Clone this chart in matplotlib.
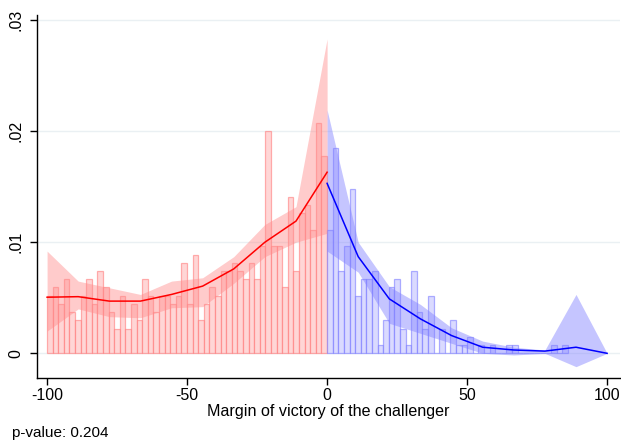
import numpy as np
import matplotlib
matplotlib.use("Agg")
import matplotlib.pyplot as plt

plt.rcParams["font.family"] = ["Liberation Sans", "DejaVu Sans"]

# Histogram (bin width 2), counts per bin
BIN_W = 2.0
N_OBS = 675
left_edges = np.arange(-100, 0, BIN_W)
left_counts = [7, 8, 6, 9, 5, 4, 7, 9, 6, 10,
               8, 5, 3, 7, 3, 6, 4, 9, 7, 5,
               7, 7, 6, 7, 11, 6, 12, 4, 6, 8,
               7, 10, 10, 11, 10, 9, 11, 9, 13, 27,
               13, 13, 8, 19, 10, 17, 18, 15, 28, 24]
right_edges = np.arange(0, 86, BIN_W)
right_counts = [15, 25, 10, 13, 20, 7, 9, 9, 10, 1,
                4, 8, 9, 3, 1, 10, 5, 3, 7, 0,
                3, 0, 4, 1, 1, 2, 0, 1, 0, 1,
                0, 0, 1, 1, 0, 0, 0, 0, 0, 0,
                1, 0, 1]

# Local linear fits and confidence bands
left_x = np.linspace(-100, 0, 10)
left_fit = [0.00505, 0.0051, 0.0047, 0.0047, 0.0053, 0.00605, 0.0076, 0.0100, 0.0119, 0.0163]
left_hi = [0.0092, 0.0065, 0.0059, 0.0053, 0.0065, 0.0068, 0.0087, 0.0116, 0.0132, 0.0283]
left_lo = [0.0020, 0.0040, 0.0033, 0.0032, 0.0041, 0.0042, 0.0063, 0.0087, 0.0100, 0.0108]

right_x = np.linspace(0, 100, 10)
right_fit = [0.0153, 0.0087, 0.0049, 0.0031, 0.0016, 0.00055, 0.0003, 0.0002, 0.00055, 0.0]
right_hi = [0.0219, 0.0100, 0.0060, 0.0044, 0.0023, 0.0011, 0.00055, 0.0003, 0.0053, 0.0]
right_lo = [0.0092, 0.0073, 0.0027, 0.0018, 0.0009, 0.0000, -0.00015, 0.0, -0.0012, 0.0]

p_value = 0.204

fig = plt.figure(figsize=(6.21, 4.44), dpi=100)
ax = fig.add_axes([37 / 621, 1 - 378 / 444, 583 / 621, 363 / 444])

dens = 1.0 / (N_OBS * BIN_W)
ax.bar(left_edges, np.array(left_counts) * dens, width=BIN_W, align="edge",
       facecolor=(1, 0.8, 0.8, 0.8), edgecolor=(1, 0.45, 0.45, 0.55), linewidth=0.9, zorder=2)
ax.bar(right_edges, np.array(right_counts) * dens, width=BIN_W, align="edge",
       facecolor=(0.82, 0.82, 1, 0.8), edgecolor=(0.45, 0.45, 1, 0.55), linewidth=0.9, zorder=2)

ax.fill_between(left_x, left_lo, left_hi, color=(1, 0.55, 0.55), alpha=0.45, linewidth=0, zorder=3)
ax.fill_between(right_x, right_lo, right_hi, color=(0.5, 0.5, 1), alpha=0.45, linewidth=0, zorder=3)
ax.plot(left_x, left_fit, color="red", linewidth=1.1, zorder=4)
ax.plot(right_x, right_fit, color="blue", linewidth=1.1, zorder=4)

ax.set_xlim(-103.6, 104.6)
ax.set_ylim(-0.00222, 0.03045)
ax.set_xticks([-100, -50, 0, 50, 100])
ax.set_xticklabels(["-100", "-50", "0", "50", "100"])
ax.set_yticks([0, 0.01, 0.02, 0.03])
ax.set_yticklabels(["0", ".01", ".02", ".03"], rotation=90, va="center")
ax.tick_params(direction="out", length=5, width=1, labelsize=11.5, colors="black")
ax.tick_params(axis="y", pad=5)
ax.tick_params(axis="x", pad=2)
ax.grid(axis="y", color="#eaf0f3", linewidth=1)
ax.set_axisbelow(True)
for s in ["top", "right"]:
    ax.spines[s].set_visible(False)
ax.spines["left"].set_linewidth(1)
ax.spines["bottom"].set_linewidth(1)

ax.set_xlabel("Margin of victory of the challenger", fontsize=11.6, labelpad=1)
fig.text(12 / 621, 1 - 437 / 444, f"p-value: {p_value}", fontsize=11, va="baseline")

fig.savefig("out.png", dpi=100)
